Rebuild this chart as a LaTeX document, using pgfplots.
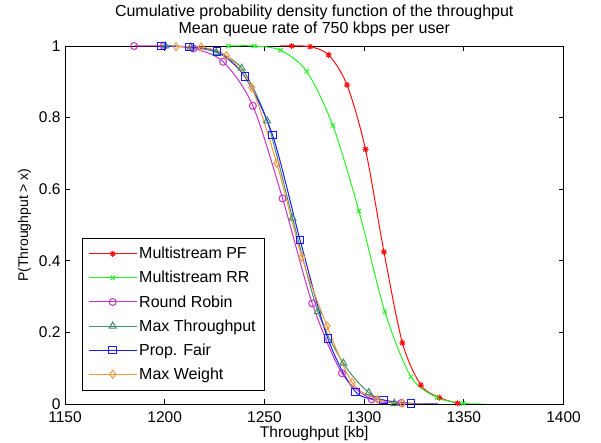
\documentclass[border=0pt]{standalone}
\usepackage{fontspec}
\setmainfont{Liberation Sans}
\usepackage{pgfplots}
\pgfplotsset{compat=1.18}
\definecolor{cRed}{rgb}{1,0.05,0.05}
\definecolor{cGreen}{rgb}{0.15,0.95,0.15}
\definecolor{cMag}{rgb}{0.76,0.2,0.76}
\definecolor{cTeal}{rgb}{0.27,0.56,0.41}
\definecolor{cBlue}{rgb}{0.1,0.1,1}
\definecolor{cOrange}{rgb}{0.95,0.6,0.25}
\makeatletter
\pgfdeclareplotmark{mstar}{%
  \pgfpathmoveto{\pgfqpoint{-\pgfplotmarksize}{0pt}}%
  \pgfpathlineto{\pgfqpoint{\pgfplotmarksize}{0pt}}%
  \pgfpathmoveto{\pgfqpoint{0pt}{-\pgfplotmarksize}}%
  \pgfpathlineto{\pgfqpoint{0pt}{\pgfplotmarksize}}%
  \pgfpathmoveto{\pgfqpoint{-0.707\pgfplotmarksize}{-0.707\pgfplotmarksize}}%
  \pgfpathlineto{\pgfqpoint{0.707\pgfplotmarksize}{0.707\pgfplotmarksize}}%
  \pgfpathmoveto{\pgfqpoint{-0.707\pgfplotmarksize}{0.707\pgfplotmarksize}}%
  \pgfpathlineto{\pgfqpoint{0.707\pgfplotmarksize}{-0.707\pgfplotmarksize}}%
  \pgfusepathqstroke}
\makeatother
\newcommand{\myfont}{\fontsize{16}{17}\selectfont}
\begin{document}
\begin{tikzpicture}
\begin{axis}[
  name=ax, scale only axis, width=498.5pt, height=358pt,
  xmin=1150, xmax=1400, ymin=0, ymax=1,
  xtick={1150,1200,1250,1300,1350,1400},
  ytick={0,0.2,0.4,0.6,0.8,1},
  tick align=inside, major tick length=5pt,
  axis line style={line width=0.8pt},
  every tick/.style={black, line width=0.8pt},
  /pgf/number format/assume math mode=true,
  /pgf/number format/1000 sep={},
  tick label style={font=\fontsize{15.5}{17}\selectfont},
  xticklabel shift=4pt,
  yticklabel style={xshift=-1pt},
  xlabel style={font=\fontsize{15.5}{17}\selectfont, yshift=3pt},
  ylabel style={font=\fontsize{14}{16}\selectfont, yshift=1pt},
  title style={font=\fontsize{16}{16.5}\selectfont, align=center},
  title={Cumulative probability density function of the throughput\\Mean queue rate of 750 kbps per user},
  xlabel={Throughput [kb]},
  ylabel={P(Throughput > x)},
  legend cell align=left,
  legend style={at={(0.0341,0.0391)}, anchor=south west, font=\myfont, row sep=7pt, inner xsep=6pt, inner ysep=7pt},
  legend image code/.code={\draw[#1, mark indices={2}] plot coordinates {(0pt,0pt) (24pt,0pt) (48pt,0pt)};},
  every axis plot/.append style={line width=1pt, smooth},
]
\addplot[color=cRed, mark=mstar, mark size=3pt, mark indices={2,3,4,5,6,7,8,9,10,11}] coordinates {
(1258,1)(1263.7,1.0)(1272.95,0.998)(1282.2,0.975)(1291.45,0.891)(1300.7,0.711)(1309.95,0.425)(1319.2,0.171)(1328.45,0.053)(1337.7,0.018)(1346.95,0.002)};
\addlegendentry{Multistream PF}
\addplot[color=cGreen, mark=x, mark size=3pt, mark indices={1,2,3,4,5,6,7,8,9,10}] coordinates {
(1231.9,1)(1245.0,1)(1258.1,0.988)(1271.2,0.929)(1284.3,0.778)(1297.4,0.539)(1310.4,0.258)(1323.5,0.076)(1336.6,0.018)(1349.7,0.002)(1360.6,0)};
\addlegendentry{Multistream RR}
\addplot[color=cMag, mark=o, mark size=3.5pt, mark indices={1,2,3,4,5,6,7,8,9,10}] coordinates {
(1184.6,1)(1199.5,1)(1214.4,0.993)(1229.3,0.956)(1244.2,0.833)(1259.1,0.574)(1274.0,0.281)(1288.9,0.086)(1303.8,0.013)(1318.7,0.003)(1328,0)};
\addlegendentry{Round Robin}
\addplot[color=cTeal, mark=triangle, mark size=4pt, mark indices={1,2,3,4,5,6,7,8,9,10}] coordinates {
(1200.35,1)(1213.1,0.997)(1225.85,0.982)(1238.6,0.938)(1251.35,0.791)(1264.1,0.519)(1276.85,0.258)(1289.6,0.114)(1302.35,0.032)(1315.1,0.002)(1325,0)};
\addlegendentry{Max Throughput}
\addplot[color=cBlue, mark=square, mark size=3.8pt, mark indices={1,2,3,4,5,6,7,8,9,10}] coordinates {
(1198.5,1)(1212.4,0.997)(1226.3,0.984)(1240.2,0.914)(1254.1,0.751)(1267.9,0.458)(1281.8,0.183)(1295.7,0.034)(1309.6,0.011)(1323.5,0.002)(1337,0)};
\addlegendentry{Prop. Fair}
\addplot[color=cOrange, mark=diamond, mark size=4pt, mark indices={1,2,3,4,5,6,7,8,9,10}] coordinates {
(1205.7,0.998)(1218.3,0.997)(1230.9,0.973)(1243.6,0.884)(1256.2,0.672)(1268.8,0.41)(1281.4,0.218)(1294.0,0.06)(1306.7,0.013)(1319.3,0.002)(1330,0)};
\addlegendentry{Max Weight}
\end{axis}
\pgfresetboundingbox
\path[use as bounding box] ([shift={(-65pt,-39pt)}]ax.south west) rectangle ([shift={(37.5pt,46pt)}]ax.north east);
\end{tikzpicture}
\end{document}
